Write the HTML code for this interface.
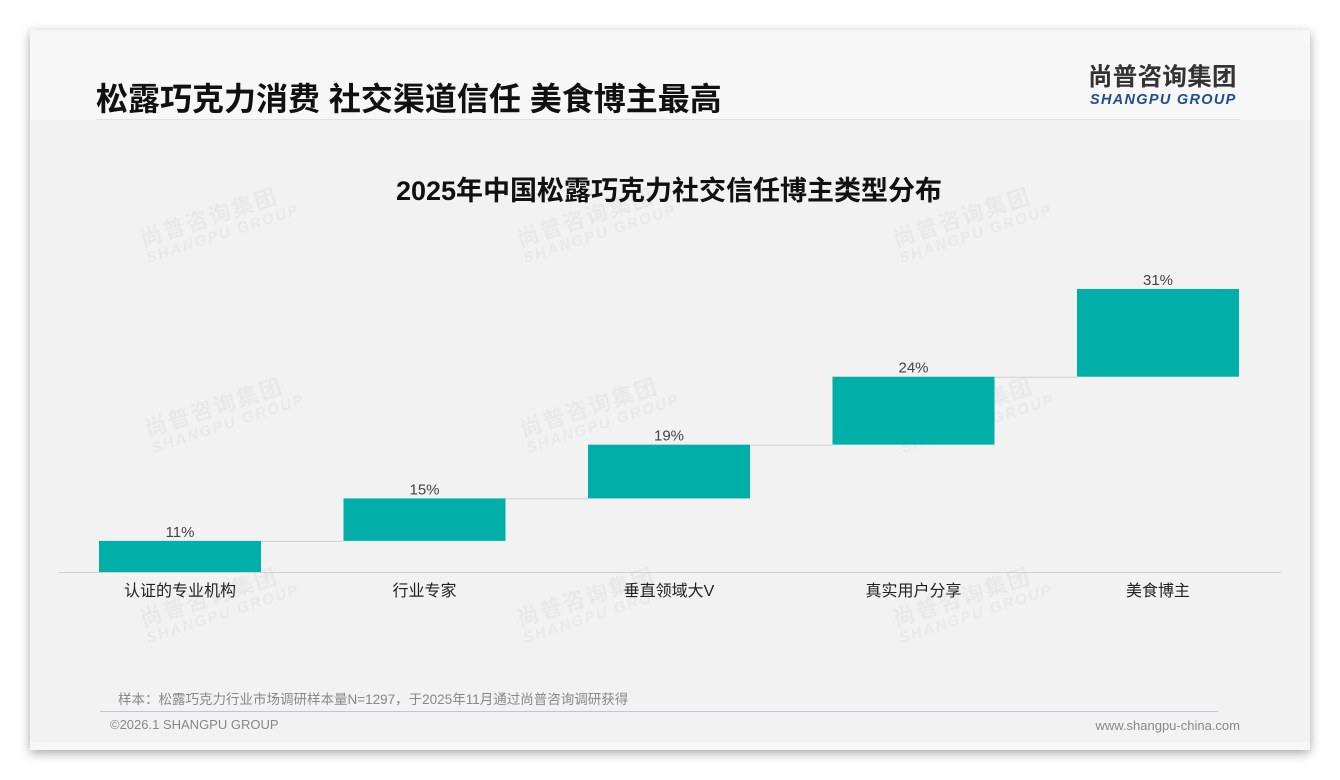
<!DOCTYPE html>
<html><head><meta charset="utf-8"><style>
body{margin:0;width:1340px;height:780px;background:#fff;position:relative;overflow:hidden;font-family:"Liberation Sans","Noto Sans CJK SC",sans-serif}
#card{position:absolute;left:30px;top:30px;width:1280px;height:720px;background:#f7f7f7;box-shadow:0 3px 10px rgba(0,0,0,.35)}
#body{position:absolute;left:0;top:90px;width:1280px;height:622px;background:#f2f2f2}
.wm{position:absolute;color:#e9e9e9;font-weight:bold;transform:rotate(-18deg);font-size:22px;line-height:20px;letter-spacing:2px}
.wm span{display:block;font-size:15px;font-style:italic}
</style></head><body>
<div id="card">
<div id="body"></div>
<div style="position:absolute;left:66px;top:44px;font-size:32px;font-weight:bold;color:#111">松露巧克力消费 社交渠道信任 美食博主最高</div>
<div style="position:absolute;left:66px;top:89px;width:1144px;height:1px;background:#e2e2e2"></div>
<div style="position:absolute;left:1058px;top:34px;text-align:left">
<div style="font-size:24.5px;line-height:28px;font-weight:bold;color:#333;letter-spacing:0.3px">尚普咨询集团</div>
<div style="font-size:14.5px;font-weight:bold;font-style:italic;color:#1d4e8f;letter-spacing:1.3px;margin-left:2px">SHANGPU GROUP</div></div>
<div style="position:absolute;left:88px;top:658px;font-size:13.5px;color:#888">样本：松露巧克力行业市场调研样本量N=1297，于2025年11月通过尚普咨询调研获得</div>
<div style="position:absolute;left:70px;top:681px;width:1118px;height:1px;background:#b8c8da"></div>
<div style="position:absolute;left:80px;top:687px;font-size:13px;color:#888">©2026.1 SHANGPU GROUP</div>
<div style="position:absolute;right:70px;top:688px;font-size:13px;color:#888">www.shangpu-china.com</div>
</div>
<div class="wm" style="left:140px;top:205px">尚普咨询集团<span>SHANGPU GROUP</span></div>
<div class="wm" style="left:517px;top:205px">尚普咨询集团<span>SHANGPU GROUP</span></div>
<div class="wm" style="left:893px;top:205px">尚普咨询集团<span>SHANGPU GROUP</span></div>
<div class="wm" style="left:145px;top:395px">尚普咨询集团<span>SHANGPU GROUP</span></div>
<div class="wm" style="left:520px;top:395px">尚普咨询集团<span>SHANGPU GROUP</span></div>
<div class="wm" style="left:895px;top:395px">尚普咨询集团<span>SHANGPU GROUP</span></div>
<div class="wm" style="left:140px;top:585px">尚普咨询集团<span>SHANGPU GROUP</span></div>
<div class="wm" style="left:517px;top:585px">尚普咨询集团<span>SHANGPU GROUP</span></div>
<div class="wm" style="left:893px;top:585px">尚普咨询集团<span>SHANGPU GROUP</span></div>
<svg id="chart" width="1340" height="780" style="position:absolute;left:0;top:0">
<text x="669" y="200" text-anchor="middle" font-size="27" font-weight="bold" fill="#111" font-family="Liberation Sans, Noto Sans CJK SC, sans-serif">2025年中国松露巧克力社交信任博主类型分布</text>
<line x1="58" y1="572.5" x2="1281" y2="572.5" stroke="#d0d0d0"/>
</svg>
<script>
const categories=["认证的专业机构","行业专家","垂直领域大V","真实用户分享","美食博主"];
const values=[11,15,19,24,31];
const valueLabels=["11%","15%","19%","24%","31%"];
const svg=document.getElementById('chart');
const NS='http://www.w3.org/2000/svg';
const base=572,scale=2.83,x0=99,step=244.5,bw=162;
const y=v=>base-v*scale;
const xs=i=>x0+i*step;
let cum=0;
values.forEach((v,i)=>{
  const top=cum+v;
  const r=document.createElementNS(NS,'rect');
  r.setAttribute('x',xs(i));r.setAttribute('y',y(top));r.setAttribute('width',bw);r.setAttribute('height',v*scale);r.setAttribute('fill','#00b0a8');
  
  
  svg.appendChild(r);
  if(i<values.length-1){
    const l=document.createElementNS(NS,'line');
    l.setAttribute('x1',xs(i)+bw);l.setAttribute('x2',xs(i+1));l.setAttribute('y1',y(top)+0.5);l.setAttribute('y2',y(top)+0.5);l.setAttribute('stroke','#d0d0d0');
    
    
    svg.appendChild(l);
  }
  const t=document.createElementNS(NS,'text');
  t.setAttribute('x',xs(i)+bw/2);t.setAttribute('y',y(top)-4);t.setAttribute('text-anchor','middle');t.setAttribute('font-size','15');t.setAttribute('fill','#444');t.setAttribute('font-family','Liberation Sans, sans-serif');
  t.textContent=valueLabels[i];
  
  
  svg.appendChild(t);
  const c=document.createElementNS(NS,'text');
  c.setAttribute('x',xs(i)+bw/2);c.setAttribute('y',596);c.setAttribute('text-anchor','middle');c.setAttribute('font-size','16');c.setAttribute('fill','#222');c.setAttribute('font-family','Liberation Sans, Noto Sans CJK SC, sans-serif');
  c.textContent=categories[i];
  
  
  svg.appendChild(c);
  cum=top;
});
</script>
</body></html>
